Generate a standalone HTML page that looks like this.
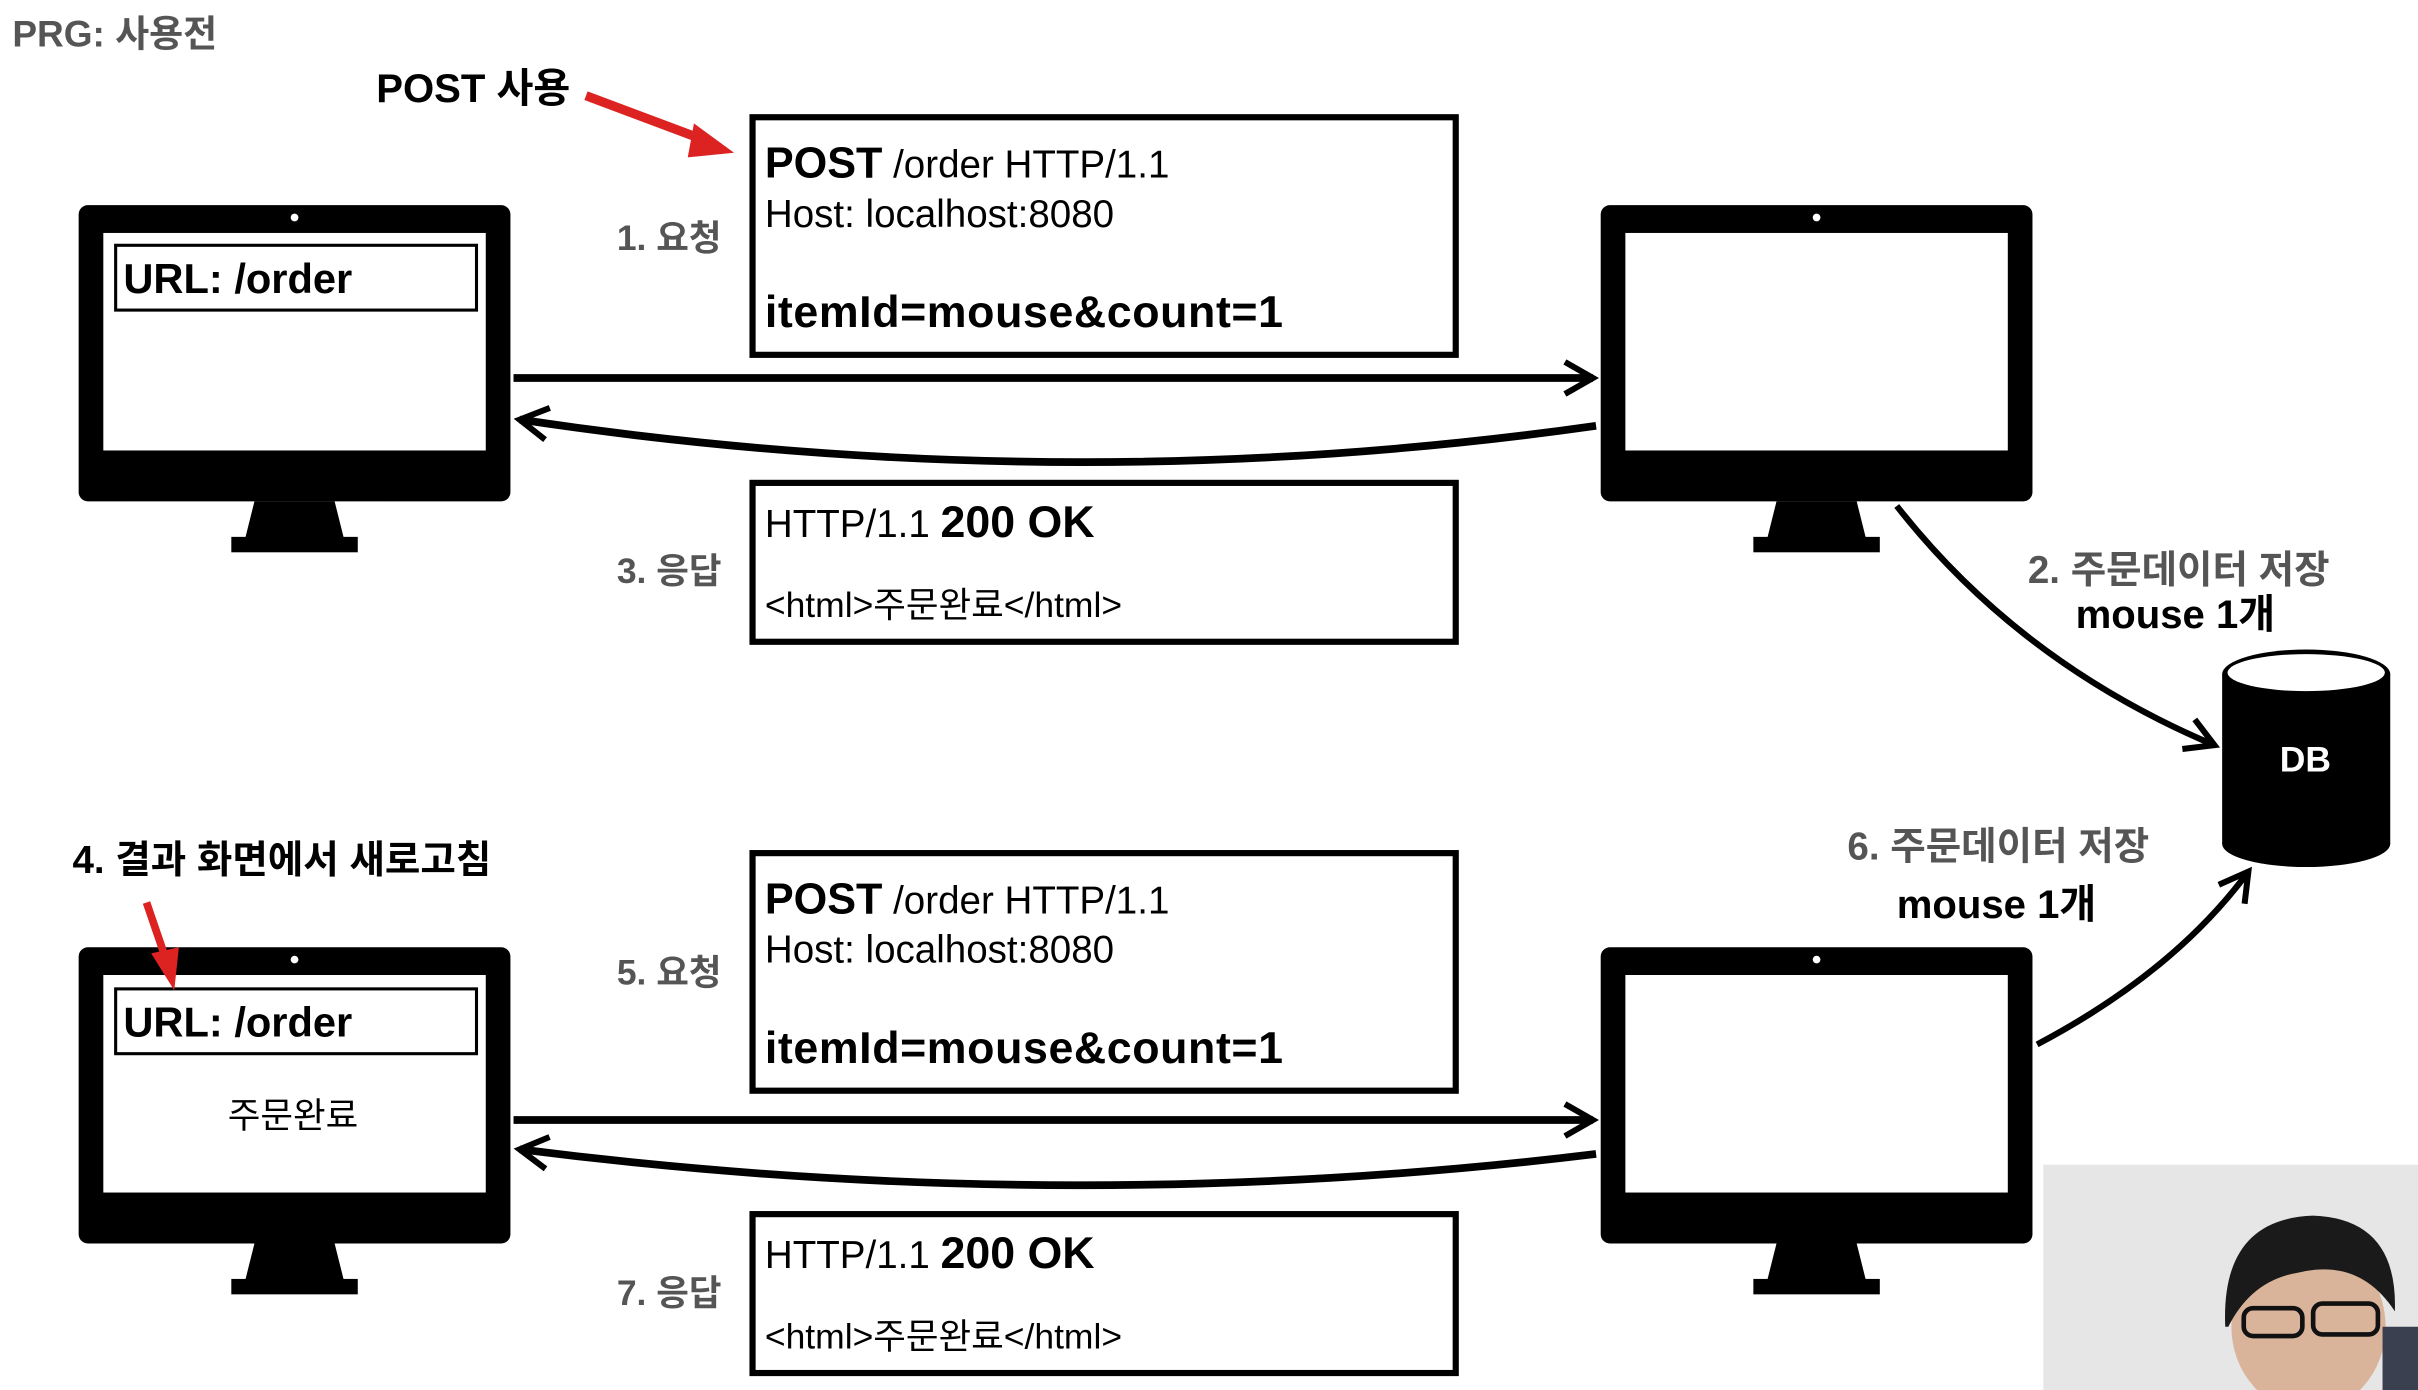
<!DOCTYPE html>
<html><head><meta charset="utf-8"><style>
html,body{margin:0;padding:0;background:#fff;width:2418px;height:1390px;overflow:hidden}
svg{display:block}
text{font-family:"Liberation Sans","Noto Sans CJK KR",sans-serif}
</style></head><body>
<svg width="2418" height="1390" viewBox="0 0 1568 901" preserveAspectRatio="none" xmlns="http://www.w3.org/2000/svg">
<defs>
<marker id="ah" viewBox="0 0 20 20" refX="17" refY="10" markerWidth="26" markerHeight="26" orient="auto" markerUnits="userSpaceOnUse">
<path d="M3,2 L17,10 L3,18" fill="none" stroke="#000" stroke-width="3"/>
</marker>
<g id="mon">
<rect x="0" y="0" width="280" height="192" rx="6" fill="#000"/>
<rect x="16" y="18" width="248" height="141" fill="#fff"/>
<circle cx="140" cy="8" r="2.5" fill="#fff"/>
<path d="M114,192 L166,192 L172,216 L108,216 Z" fill="#000"/>
<rect x="99" y="215" width="82" height="10" fill="#000"/>
</g>
</defs>
<text x="8" y="30" font-size="24" font-weight="bold" fill="#555">PRG: 사용전</text>

<!-- top row -->
<text x="244" y="66" font-size="26" font-weight="bold">POST 사용</text>
<line x1="380" y1="62" x2="460" y2="92" stroke="#d22" stroke-width="6"/>
<path d="M450,80 L476,99 L446,102 Z" fill="#d22"/>

<rect x="488" y="76" width="456" height="154" fill="none" stroke="#000" stroke-width="4"/>
<text x="496" y="115" font-size="28"><tspan font-weight="bold">POST</tspan><tspan font-size="25"> /order HTTP/1.1</tspan></text>
<text x="496" y="147" font-size="25">Host: localhost:8080</text>
<text x="496" y="212" font-size="29" font-weight="bold" textLength="336">itemId=mouse&amp;count=1</text>
<text x="400" y="162" font-size="23" font-weight="bold" fill="#555">1. 요청</text>

<use href="#mon" x="51" y="133"/>
<rect x="75" y="159" width="234" height="42" fill="none" stroke="#000" stroke-width="2"/>
<text x="80" y="190" font-size="27" font-weight="bold">URL: /order</text>
<use href="#mon" x="1038" y="133"/>

<line x1="333" y1="245" x2="1033" y2="245" stroke="#000" stroke-width="5" marker-end="url(#ah)"/>
<path d="M1035,276 Q690,325 337,272" fill="none" stroke="#000" stroke-width="5" marker-end="url(#ah)"/>

<rect x="488" y="313" width="456" height="103" fill="none" stroke="#000" stroke-width="4"/>
<text x="496" y="348" font-size="25">HTTP/1.1 <tspan font-size="29" font-weight="bold">200 OK</tspan></text>
<text x="496" y="400" font-size="23">&lt;html&gt;주문완료&lt;/html&gt;</text>
<text x="400" y="378" font-size="23" font-weight="bold" fill="#555">3. 응답</text>

<text x="1315" y="378" font-size="25" font-weight="bold" fill="#555">2. 주문데이터 저장</text>
<text x="1346" y="407" font-size="26" font-weight="bold">mouse 1개</text>
<path d="M1230,328 Q1310,430 1436,483" fill="none" stroke="#000" stroke-width="4" marker-end="url(#ah)"/>

<!-- DB -->
<rect x="1441" y="437" width="109" height="110" fill="#000"/>
<ellipse cx="1495.5" cy="547" rx="54.5" ry="15" fill="#000"/>
<ellipse cx="1495.5" cy="437" rx="54.5" ry="16" fill="#000"/>
<ellipse cx="1495.5" cy="436" rx="51" ry="12" fill="#fff"/>
<text x="1495" y="500" font-size="23" font-weight="bold" fill="#fff" text-anchor="middle">DB</text>

<!-- bottom row -->
<text x="47" y="566" font-size="25" font-weight="bold">4. 결과 화면에서 새로고침</text>

<rect x="488" y="553" width="456" height="154" fill="none" stroke="#000" stroke-width="4"/>
<text x="496" y="592" font-size="28"><tspan font-weight="bold">POST</tspan><tspan font-size="25"> /order HTTP/1.1</tspan></text>
<text x="496" y="624" font-size="25">Host: localhost:8080</text>
<text x="496" y="689" font-size="29" font-weight="bold" textLength="336">itemId=mouse&amp;count=1</text>
<text x="400" y="638" font-size="23" font-weight="bold" fill="#555">5. 요청</text>

<use href="#mon" x="51" y="614"/>
<rect x="75" y="641" width="234" height="42" fill="none" stroke="#000" stroke-width="2"/>
<text x="80" y="672" font-size="27" font-weight="bold">URL: /order</text>
<text x="190" y="731" font-size="23" text-anchor="middle">주문완료</text>
<use href="#mon" x="1038" y="614"/>

<line x1="95" y1="585" x2="107" y2="620" stroke="#d22" stroke-width="5"/>
<path d="M98,618 L116,614 L113,642 Z" fill="#d22"/>

<line x1="333" y1="726" x2="1033" y2="726" stroke="#000" stroke-width="5" marker-end="url(#ah)"/>
<path d="M1035,748 Q690,790 337,745" fill="none" stroke="#000" stroke-width="5" marker-end="url(#ah)"/>

<rect x="488" y="787" width="456" height="103" fill="none" stroke="#000" stroke-width="4"/>
<text x="496" y="822" font-size="25">HTTP/1.1 <tspan font-size="29" font-weight="bold">200 OK</tspan></text>
<text x="496" y="874" font-size="23">&lt;html&gt;주문완료&lt;/html&gt;</text>
<text x="400" y="846" font-size="23" font-weight="bold" fill="#555">7. 응답</text>

<text x="1198" y="557" font-size="25" font-weight="bold" fill="#555">6. 주문데이터 저장</text>
<text x="1230" y="595" font-size="26" font-weight="bold">mouse 1개</text>
<path d="M1321,677 Q1410,630 1458,565" fill="none" stroke="#000" stroke-width="4" marker-end="url(#ah)"/>

<!-- webcam -->
<rect x="1325" y="755" width="243" height="146" fill="#e6e6e6"/>
<ellipse cx="1497" cy="860" rx="50" ry="55" fill="#d9b49a"/>
<path d="M1443,860 Q1440,790 1500,788 Q1555,790 1553,850 Q1530,815 1490,825 Q1460,830 1445,860 Z" fill="#1a1a1a"/>
<rect x="1455" y="848" width="38" height="18" rx="6" fill="none" stroke="#111" stroke-width="3"/>
<rect x="1500" y="845" width="42" height="20" rx="6" fill="none" stroke="#111" stroke-width="3"/>
<rect x="1545" y="860" width="23" height="41" fill="#3a4050"/>
</svg>
</body></html>
